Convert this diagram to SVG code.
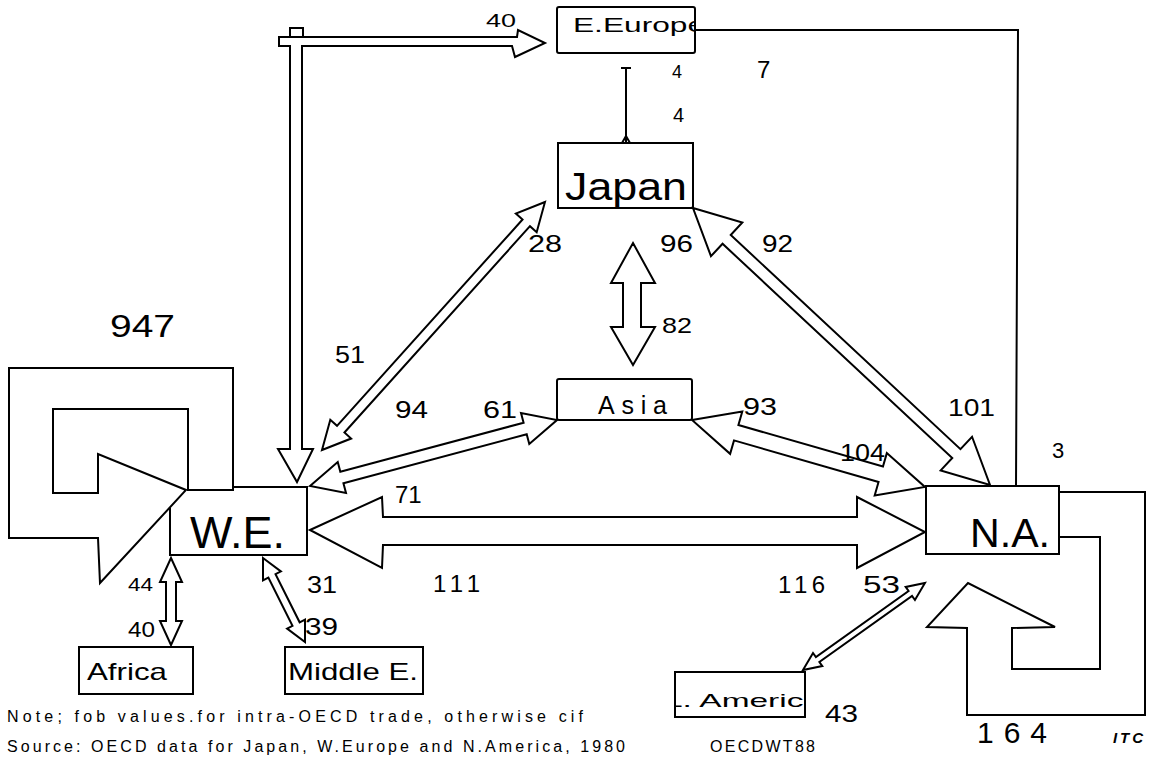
<svg xmlns="http://www.w3.org/2000/svg" width="1149" height="760" viewBox="0 0 1149 760">
<style>
.b{fill:#fff;stroke:#000;stroke-width:2;stroke-linejoin:miter}
.box{fill:none;stroke:#000;stroke-width:2}
.l{fill:none;stroke:#000;stroke-width:2}
.t{font-family:"Liberation Sans",Arial,sans-serif;fill:#000}
.n{font-size:24px}
</style>
<defs>
<clipPath id="clipEE"><rect x="558" y="8" width="136" height="44"/></clipPath>
<clipPath id="clipLA"><rect x="676" y="673" width="128" height="43"/></clipPath>
</defs>
<rect width="1149" height="760" fill="#fff"/>
<g id="connectors">
  <polygon class="b" points="233,490 233,368 9,368 9,538 98,538 100,583 186,490 98,454 98,493 53,493 53,409 188,409 188,490"/>
  <polygon class="b" points="1059,492 1145,492 1145,715 967,715 967,628 927,627 968,583 1055,627 1012,628 1012,669 1100,669 1100,537 1059,537"/>
  <polygon class="b" points="279,37 517,37 518,30 545,43 515,57 512,46 302,46 302,449 313,449 297,482 278,449 290,449 290,46 279,46"/>
  <path class="l" d="M290,37 V28 H303 V37"/>
  <polyline class="l" points="695,30 1018,30 1016,486"/>
  <path class="l" d="M626,68 V143 M621,68 H631 M622,143 L626,136 L630,143"/>
  <polygon class="b" transform="translate(322,450) rotate(-48.04)" points="0,0 28,-14 28,-5 305.5,-5 305.5,-14 333.5,0 305.5,14 305.5,5 28,5 28,14"/>
  <polygon class="b" transform="translate(310,486) rotate(-14.96)" points="0,0 33,-16 33,-6 222.7,-6 222.7,-16 255.7,0 222.7,16 222.7,6 33,6 33,16"/>
  <polygon class="b" transform="translate(692,420) rotate(16.04)" points="0,0 46,-22 46,-8 196.4,-8 196.4,-22 242.4,0 196.4,22 196.4,8 46,8 46,22"/>
  <polygon class="b" points="633,243 655,283 641,283 641,327 655,327 633,365 611,327 623,327 623,283 611,283"/>
  <polygon class="b" transform="translate(693,208) rotate(43.0)" points="0,0 46,-23 46,-6 360.1,-6 360.1,-23 406.1,0 360.1,23 360.1,6 46,6 46,23"/>
  <polygon class="b" transform="translate(803,670) rotate(-35.5)" points="0,0 18,-8 18,-3 131.8,-3 131.8,-8 149.8,0 131.8,8 131.8,3 18,3 18,8"/>
  <polygon class="b" points="171,558 182,582 176,582 176,621 182,621 171,645 160,621 166,621 166,582 160,582"/>
  <polygon class="b" transform="translate(263,558) rotate(63.43)" points="0,0 20,-10 20,-4 73.9,-4 73.9,-10 93.9,0 73.9,10 73.9,4 20,4 20,10"/>
  <polygon class="b" points="310,530 382,497 383,517 857,517 857,497 925,532 857,568 857,545 383,545 382,568"/>
</g>
<g id="node-eeurope">
  <rect class="box" x="557" y="7" width="138" height="46" rx="2"/>
  <text class="t" x="573" y="32" font-size="21" textLength="132" lengthAdjust="spacingAndGlyphs" clip-path="url(#clipEE)">E.Europe</text>
</g>
<g id="node-japan">
  <rect class="box" x="558" y="143" width="135" height="65"/>
  <text class="t" x="565" y="200" font-size="38" textLength="122" lengthAdjust="spacingAndGlyphs">Japan</text>
</g>
<g id="node-asia">
  <rect class="box" x="557" y="379" width="135" height="41" rx="2"/>
  <text class="t" x="598" y="414" font-size="25" textLength="69" lengthAdjust="spacing">Asia</text>
</g>
<g id="node-we">
  <path class="box" d="M233,487 H307 V555 H170 V508"/>
  <text class="t" x="190" y="548" font-size="44" textLength="95" lengthAdjust="spacingAndGlyphs">W.E.</text>
</g>
<g id="node-na">
  <rect class="box" x="926" y="486" width="133" height="68"/>
  <text class="t" x="970" y="547" font-size="40" textLength="80" lengthAdjust="spacingAndGlyphs">N.A.</text>
</g>
<g id="node-africa">
  <rect class="box" x="79" y="647" width="114" height="47"/>
  <text class="t" x="87" y="680" font-size="24" textLength="80" lengthAdjust="spacingAndGlyphs">Africa</text>
</g>
<g id="node-middlee">
  <rect class="box" x="285" y="647" width="138" height="47"/>
  <text class="t" x="288" y="680" font-size="24" textLength="130" lengthAdjust="spacingAndGlyphs">Middle E.</text>
</g>
<g id="node-lamerica">
  <rect class="box" x="675" y="672" width="130" height="45"/>
  <text class="t" x="664" y="707" font-size="19" textLength="158" lengthAdjust="spacingAndGlyphs" clip-path="url(#clipLA)">L. America</text>
</g>
<g id="labels">
  <text class="t" x="486" y="27" font-size="18" textLength="30" lengthAdjust="spacingAndGlyphs">40</text>
  <text class="t" x="672" y="78" font-size="18">4</text>
  <text class="t" x="673" y="122" font-size="20">4</text>
  <text class="t n" x="757" y="78">7</text>
  <text class="t n" x="528" y="252" textLength="34" lengthAdjust="spacingAndGlyphs">28</text>
  <text class="t n" x="660" y="252" textLength="33" lengthAdjust="spacingAndGlyphs">96</text>
  <text class="t n" x="762" y="252" textLength="31" lengthAdjust="spacingAndGlyphs">92</text>
  <text class="t" x="662" y="333" font-size="22" textLength="30" lengthAdjust="spacingAndGlyphs">82</text>
  <text class="t n" x="335" y="363" textLength="30" lengthAdjust="spacingAndGlyphs">51</text>
  <text class="t n" x="395" y="418" textLength="33" lengthAdjust="spacingAndGlyphs">94</text>
  <text class="t n" x="483" y="418" textLength="34" lengthAdjust="spacingAndGlyphs">61</text>
  <text class="t n" x="743" y="415" textLength="34" lengthAdjust="spacingAndGlyphs">93</text>
  <text class="t n" x="840" y="461" textLength="45" lengthAdjust="spacingAndGlyphs">104</text>
  <text class="t n" x="948" y="416" textLength="47" lengthAdjust="spacingAndGlyphs">101</text>
  <text class="t" x="1052" y="458" font-size="22">3</text>
  <text class="t" x="110" y="337" font-size="32" textLength="65" lengthAdjust="spacingAndGlyphs">947</text>
  <text class="t n" x="395" y="503">71</text>
  <text class="t n" x="307" y="593" textLength="30" lengthAdjust="spacingAndGlyphs">31</text>
  <text class="t" x="128" y="591" font-size="18" textLength="25" lengthAdjust="spacingAndGlyphs">44</text>
  <text class="t" x="128" y="637" font-size="22" textLength="27" lengthAdjust="spacingAndGlyphs">40</text>
  <text class="t n" x="305" y="635" textLength="33" lengthAdjust="spacingAndGlyphs">39</text>
  <text class="t n" x="433" y="592" textLength="47" lengthAdjust="spacing">111</text>
  <text class="t n" x="778" y="593" textLength="47" lengthAdjust="spacing">116</text>
  <text class="t n" x="863" y="593" textLength="37" lengthAdjust="spacingAndGlyphs">53</text>
  <text class="t n" x="825" y="722" textLength="33" lengthAdjust="spacingAndGlyphs">43</text>
  <text class="t" x="977" y="743" font-size="30" textLength="70" lengthAdjust="spacing">164</text>
  <text class="t" x="1113" y="743" font-size="15" font-style="italic" font-weight="bold" textLength="30" lengthAdjust="spacing">ITC</text>
  <text class="t" x="7" y="722" font-size="16" textLength="576" lengthAdjust="spacing">Note; fob values.for intra-OECD trade, otherwise cif</text>
  <text class="t" x="7" y="752" font-size="16" textLength="618" lengthAdjust="spacing">Source: OECD data for Japan, W.Europe and N.America, 1980</text>
  <text class="t" x="710" y="752" font-size="16" textLength="105" lengthAdjust="spacing">OECDWT88</text>
</g>
</svg>
